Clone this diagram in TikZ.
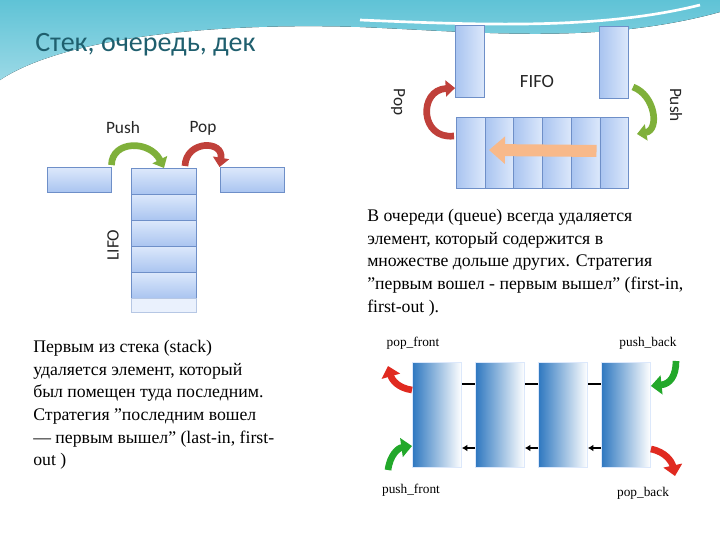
\documentclass[tikz,border=0pt]{standalone}
\usepackage{fontspec}
\setmainfont{Liberation Serif}[Ligatures=ResetAll]
\newfontfamily\sansf{Carlito}
\usetikzlibrary{arrows.meta}
\definecolor{teal1}{HTML}{5FC3D6}
\definecolor{teal2}{HTML}{9BD9E6}
\definecolor{titlec}{HTML}{1F5F6E}
\definecolor{boxl}{HTML}{DCE8FB}
\definecolor{boxd}{HTML}{A9C4F0}
\definecolor{boxe}{HTML}{6E8FC8}
\definecolor{grn}{HTML}{7FB03A}
\definecolor{rd}{HTML}{C0403A}
\definecolor{org}{HTML}{F8B98A}
\definecolor{dqb}{HTML}{2F78C0}
\definecolor{dgrn}{HTML}{22A82A}
\definecolor{drd}{HTML}{E02A20}
\newcommand{\dq}{\symbol{34}}
\tikzset{
 cell/.style={draw=boxe,line width=0.7pt,top color=boxl,bottom color=boxd},
 vcell/.style={draw=boxe,line width=0.7pt,left color=boxd,right color=boxl},
 dqbox/.style={draw=boxl,line width=0.7pt,left color=dqb,right color=white},
 lbl/.style={font=\sansf\fontsize{13}{15}\selectfont,text=black!85},
 para/.style={font=\fontsize{13.3}{17}\selectfont,align=left,anchor=north west,inner sep=0},
 dlbl/.style={font=\fontsize{10}{12}\selectfont},
 arcg/.style={draw=grn,line width=5pt,-{Triangle[length=7pt,width=12pt]}},
 arcr/.style={draw=rd,line width=5pt,-{Triangle[length=7pt,width=12pt]}},
 dar/.style={line width=5pt,-{Triangle[length=8pt,width=14pt]}},
 link/.style={draw=black,line width=1.5pt}
}
\begin{document}
\begin{tikzpicture}[x=0.75pt,y=-0.75pt]
\useasboundingbox (0,0) rectangle (720,540);
\fill[white] (0,0) rectangle (720,540);
% background waves
\fill[top color=teal1,bottom color=teal2] (0,0) -- (0,80) .. controls (60,40) and (200,22) .. (360,27) .. controls (480,32) and (600,45) .. (720,12) -- (720,0) -- cycle;
\draw[white,line width=2pt] (360,20) .. controls (480,25) and (600,30) .. (700,5);
\node[font=\sansf\fontsize{21}{24}\selectfont,text=titlec,anchor=west,inner sep=0] (title) at (35,45) {Стек, очередь, дек};
% stack
\node[cell,minimum width=64*0.75pt,minimum height=25*0.75pt,inner sep=0] (sl) at (79,180) {};
\node[cell,minimum width=64*0.75pt,minimum height=25*0.75pt,inner sep=0] (sr) at (252,180) {};
\foreach \i/\y in {1/168,2/194,3/220,4/246,5/272}{
 \node[cell,minimum width=65*0.75pt,minimum height=26*0.75pt,inner sep=0,anchor=north] (s\i) at (164,\y) {};}
\node[draw=boxe!50,fill=boxl!60,minimum width=65*0.75pt,minimum height=14*0.75pt,inner sep=0,anchor=north] (s6) at (164,298) {};
\node[lbl] (push) at (123,128) {Push};
\node[lbl] (pop) at (203,128) {Pop};
\node[lbl,rotate=90] (lifo) at (113,245) {LIFO};
\draw[arcg] (sl.north east) ++(0,-2) .. controls (112,140) and (150,140) .. (s1.north) ;
\draw[arcr] (s1.north east) ++(-12,-2) .. controls (186,140) and (224,140) .. (sr.north west);
% FIFO
\node[vcell,minimum width=29*0.75pt,minimum height=72*0.75pt,inner sep=0] (ft1) at (470,61) {};
\node[vcell,minimum width=29*0.75pt,minimum height=72*0.75pt,inner sep=0] (ft2) at (614,62) {};
\foreach \i in {0,...,5}{
 \node[vcell,minimum width=28.7*0.75pt,minimum height=71*0.75pt,inner sep=0,anchor=north west] (fb\i) at (456+\i*28.7,117) {};}
\node[lbl,font=\sansf\fontsize{14}{16}\selectfont] (fifo) at (537,82) {FIFO};
\node[lbl,rotate=-90] (fpop) at (398,102) {Pop};
\node[lbl,rotate=-90] (fpush) at (676,105) {Push};
\draw[org,line width=9pt,-{Triangle[length=12pt,width=20pt]}] (fb5.west) ++(-3,-2) -- (489,150) coordinate (oa);
\draw[arcr] (fb0.west) ++(-2,-17) .. controls (420,140) and (418,90) .. (ft1.west |- 0,88);
\draw[arcg] (ft2.east) ++(4,25) .. controls (655,95) and (660,130) .. (637,134);
% paragraphs
\node[para] (pq) at (367,209) {В очереди (queue) всегда удаляется\\элемент, который содержится в\\множестве дольше других. Стратегия\\\dq первым вошел - первым вышел\dq{} (first-in,\\first-out ).};
\node[para] (ps) at (33,340) {Первым из стека (stack)\\удаляется элемент, который\\был помещен туда последним.\\Стратегия \dq последним вошел\\— первым вышел\dq{} (last-in, first-\\out )};
% deque
\foreach \i/\x in {1/412,2/475,3/538,4/601}{
 \node[dqbox,minimum width=49*0.75pt,minimum height=105*0.75pt,inner sep=0,anchor=north west] (d\i) at (\x,362) {};}
\foreach \a/\b in {1/2,2/3,3/4}{
 \draw[link] (d\a.east |- 0,384) -- (d\b.west |- 0,384);
 \draw[link,-{Latex[length=4pt,width=5pt]}] (d\b.west |- 0,448) -- (d\a.east |- 0,448);}
\node[dlbl] (lpf) at (413,343) {pop\_front};
\node[dlbl] (lpb) at (648,343) {push\_back};
\node[dlbl] (lpuf) at (411,490) {push\_front};
\node[dlbl] (lpob) at (643,493) {pop\_back};
\draw[dar,drd] (d1.west |- 0,390) .. controls (398,388) and (392,380) .. (388,366);
\draw[dar,dgrn] (388,470) .. controls (390,455) and (398,448) .. (d1.west |- 0,446);
\draw[dar,dgrn] (676,361) .. controls (676,376) and (670,384) .. (d4.east |- 0,386);
\draw[dar,drd] (d4.east |- 0,449) .. controls (666,452) and (672,462) .. (675,476);
\end{tikzpicture}
\end{document}
